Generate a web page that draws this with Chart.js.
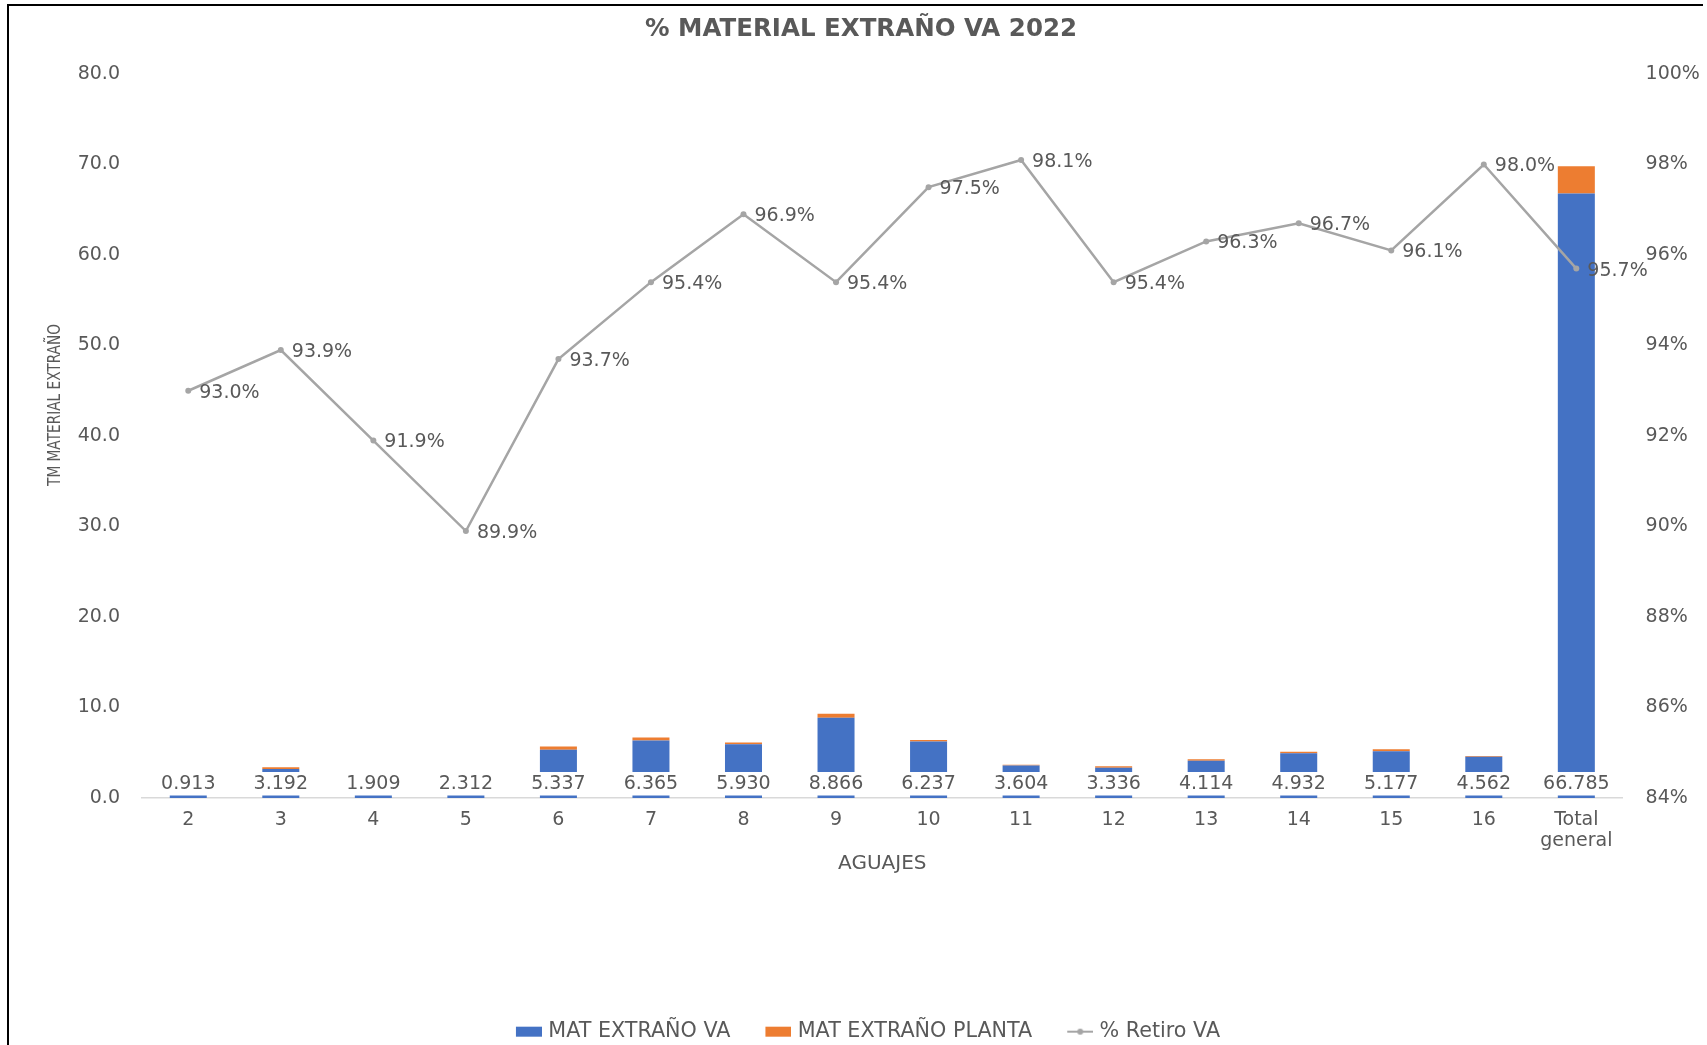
<!DOCTYPE html>
<html>
<head>
<meta charset="utf-8">
<script src="https://cdn.jsdelivr.net/npm/chart.js@4.4.1/dist/chart.umd.min.js"></script>
<style>
  html, body { margin: 0; padding: 0; background: #fff; }
  #wrap { position: relative; width: 1707px; height: 1045px; }
  #frame { position: absolute; left: 7px; top: 4px; right: 4px; bottom: -4px;
           border-left: 2px solid #000; border-top: 2px solid #000; pointer-events: none; }
</style>
</head>
<body>
<div id="wrap">
  <canvas id="chart" width="1707" height="1045"></canvas>
  <div id="frame"></div>
</div>
<script>
const AGUAJES = ['2', '3', '4', '5', '6', '7', '8', '9', '10', '11', '12', '13', '14', '15', '16', ['Total', 'general']];
const MAT_EXTRANO_VA = [0.913, 3.192, 1.909, 2.312, 5.337, 6.365, 5.930, 8.866, 6.237, 3.604, 3.336, 4.114, 4.932, 5.177, 4.562, 66.785];
const MAT_EXTRANO_PLANTA = [0.07, 0.21, 0.17, 0.26, 0.36, 0.31, 0.19, 0.43, 0.16, 0.07, 0.16, 0.16, 0.17, 0.21, 0.09, 3.02];
const RETIRO_VA = [93.0, 93.9, 91.9, 89.9, 93.7, 95.4, 96.9, 95.4, 97.5, 98.1, 95.4, 96.3, 96.7, 96.1, 98.0, 95.7];
const LEFT_TICKS = [0, 10, 20, 30, 40, 50, 60, 70, 80];
const RIGHT_TICKS = [84, 86, 88, 90, 92, 94, 96, 98, 100];

const BLUE = '#4472C4';
const ORANGE = '#ED7D31';
const GREY_LINE = '#A5A5A5';
const TEXT = '#595959';
const FONT = '"DejaVu Sans", Verdana, sans-serif';
const PLOT_TOP = 74;
const PLOT_BOTTOM = 798;
const LAYOUT_BOTTOM = -7;

// legend icons: coloured boxes and a line with a dot
function makeIcon(kind, color) {
  const c = document.createElement('canvas');
  c.width = 59; c.height = 12;
  const g = c.getContext('2d');
  if (kind === 'box') {
    g.fillStyle = color;
    g.fillRect(33, 1, 26, 10);
  } else {
    g.strokeStyle = color; g.lineWidth = 2;
    g.beginPath(); g.moveTo(33, 6); g.lineTo(59, 6); g.stroke();
    g.fillStyle = color;
    g.beginPath(); g.arc(46, 6, 3, 0, Math.PI * 2); g.fill();
  }
  return c;
}
const legendIcons = [makeIcon('box', BLUE), makeIcon('box', ORANGE), makeIcon('line', GREY_LINE)];

// value labels: bar labels at the base on a white box, line labels to the right of each point,
// plus the chart title and both axis titles
const valueLabels = {
  id: 'valueLabels',
  afterDatasetsDraw(chart) {
    const ctx = chart.ctx;
    const area = chart.chartArea;
    const base = chart.scales.y.getPixelForValue(0);
    ctx.save();
    ctx.font = '19px ' + FONT;
    ctx.textBaseline = 'middle';
    chart.getDatasetMeta(0).data.forEach((bar, i) => {
      ctx.fillStyle = '#fff';
      ctx.fillRect(bar.x - 33, base - 26, 66, 23.5);
      ctx.fillStyle = TEXT;
      ctx.textAlign = 'center';
      ctx.fillText(MAT_EXTRANO_VA[i].toFixed(3), bar.x, base - 14);
    });
    chart.getDatasetMeta(2).data.forEach((pt, i) => {
      ctx.fillStyle = TEXT;
      ctx.textAlign = 'left';
      ctx.fillText(RETIRO_VA[i].toFixed(1) + '%', pt.x + 11, pt.y + 2);
    });
    ctx.textAlign = 'center';
    ctx.font = 'bold 24.5px ' + FONT;
    ctx.fillText('% MATERIAL EXTRAÑO VA 2022', 861, 30);
    ctx.font = '20px ' + FONT;
    ctx.fillText('AGUAJES', (area.left + area.right) / 2, 864);
    ctx.translate(55, 405);
    ctx.rotate(-Math.PI / 2);
    ctx.scale(0.76, 1);
    ctx.font = '18px ' + FONT;
    ctx.fillText('TM MATERIAL EXTRAÑO', 0, 0);
    ctx.restore();
  }
};

new Chart(document.getElementById('chart'), {
  data: {
    labels: AGUAJES,
    datasets: [
      { type: 'bar', label: 'MAT EXTRAÑO VA', data: MAT_EXTRANO_VA, backgroundColor: BLUE,
        yAxisID: 'y', stack: 'mat', order: 1, barPercentage: 0.4, categoryPercentage: 1 },
      { type: 'bar', label: 'MAT EXTRAÑO PLANTA', data: MAT_EXTRANO_PLANTA, backgroundColor: ORANGE,
        yAxisID: 'y', stack: 'mat', order: 2, barPercentage: 0.4, categoryPercentage: 1 },
      { type: 'line', label: '% Retiro VA', data: RETIRO_VA, borderColor: GREY_LINE, backgroundColor: GREY_LINE,
        borderWidth: 2.5, pointRadius: 3, pointBorderWidth: 0, yAxisID: 'y1', order: 0, tension: 0 },
    ],
  },
  options: {
    responsive: false,
    animation: false,
    layout: { padding: { left: 0, right: 0, top: PLOT_TOP, bottom: LAYOUT_BOTTOM } },
    scales: {
      x: {
        stacked: true,
        afterFit: (s) => { s.height = s.chart.height - LAYOUT_BOTTOM - PLOT_BOTTOM - s.chart.legend.height; },
        grid: { display: false, drawTicks: false },
        border: { display: true, color: '#D9D9D9', width: 1.5 },
        ticks: { color: TEXT, font: { family: FONT, size: 19, lineHeight: 1.1 }, padding: 12, maxRotation: 0, autoSkip: false },
      },
      y: {
        stacked: true,
        position: 'left',
        min: 0, max: 80,
        afterBuildTicks: (s) => { s.ticks = LEFT_TICKS.map((v) => ({ value: v })); },
        afterFit: (s) => { s.width = 142; },
        grid: { display: false, drawTicks: false },
        border: { display: false },
        ticks: { color: TEXT, font: { family: FONT, size: 19 }, padding: 22, callback: (v) => v.toFixed(1) },
      },
      y1: {
        position: 'right',
        min: 84, max: 100,
        afterBuildTicks: (s) => { s.ticks = RIGHT_TICKS.map((v) => ({ value: v })); },
        afterFit: (s) => { s.width = 84.4; },
        grid: { display: false, drawTicks: false },
        border: { display: false },
        ticks: { color: TEXT, font: { family: FONT, size: 19 }, padding: 23, callback: (v) => v + '%' },
      },
    },
    plugins: {
      title: { display: false },
      legend: {
        position: 'bottom',
        labels: {
          usePointStyle: true, pointStyleWidth: 51, boxHeight: 12, padding: 6,
          color: TEXT, font: { family: FONT, size: 20.7 },
          generateLabels: (chart) => chart.data.datasets.map((ds, i) => ({
            text: ds.label, pointStyle: legendIcons[i], datasetIndex: i,
            fillStyle: 'transparent', strokeStyle: 'transparent', lineWidth: 0, fontColor: TEXT, hidden: false,
          })),
        },
      },
      tooltip: { enabled: false },
    },
  },
  plugins: [valueLabels],
});
</script>
</body>
</html>
